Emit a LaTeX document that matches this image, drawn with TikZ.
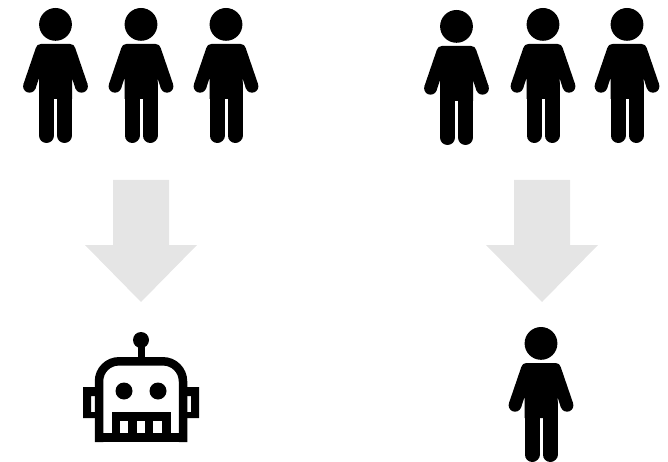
\documentclass[tikz,border=0pt]{standalone}
\definecolor{arrowgrey}{HTML}{E5E5E5}
\tikzset{
  x=1pt,y=-1pt,
  person/.pic={
    \fill[black] (0,0.4) circle (16.4);
    \fill[black] (-14.5,20) -- (14.5,20) .. controls (17.5,20) and (18.8,21.5) .. (19.7,24) -- (32,60) -- (20,64.6) -- (16.5,54) -- (16.5,75) -- (-16.5,75) -- (-16.5,54) -- (-20,64.6) -- (-32,60) -- (-19.7,24) .. controls (-18.8,21.5) and (-17.5,20) .. (-14.5,20) -- cycle;
    \fill[black] (-26,62.3) circle (6.4);
    \fill[black] (26,62.3) circle (6.4);
    \draw[black,line width=15,line cap=round] (-9,60) -- (-9,111.5);
    \draw[black,line width=15,line cap=round] (9,60) -- (9,111.5);
  },
  downarrow/.pic={
    \fill[arrowgrey] (-28,0) -- (28,0) -- (28,65) -- (56,65) -- (0,122) -- (-56,65) -- (-28,65) -- cycle;
  },
}
\begin{document}
\begin{tikzpicture}
\useasboundingbox (0,0) rectangle (668,462);
\pic at (55.5,24) {person};
\pic at (141,24) {person};
\pic at (226,24) {person};
\pic at (456.5,26) {person};
\pic at (543,24) {person};
\pic at (627,24) {person};
\pic at (541,343) {person};
\pic at (141,180) {downarrow};
\pic at (542,180) {downarrow};
% robot
\fill[black] (141,340) circle (8);
\fill[black] (137.5,340) rectangle (144.5,362);
\draw[black,line width=8.5,rounded corners=20] (99,442) -- (99,361.3) -- (183,361.3) -- (183,442);
\fill[black] (95,433) rectangle (187,442);
\fill[black] (112,412) rectangle (171,442);
\fill[white] (120,421) rectangle (128,433);
\fill[white] (137,421) rectangle (145,433);
\fill[white] (153,421) rectangle (162,433);
\fill[black,even odd rule] (83,387) rectangle (96,418) (91,396) rectangle (96,412);
\fill[black,even odd rule] (186,387) rectangle (199,418) (186,396) rectangle (191,412);
\fill[black] (124,391) circle (8.5);
\fill[black] (158,391) circle (8.5);
\end{tikzpicture}
\end{document}
